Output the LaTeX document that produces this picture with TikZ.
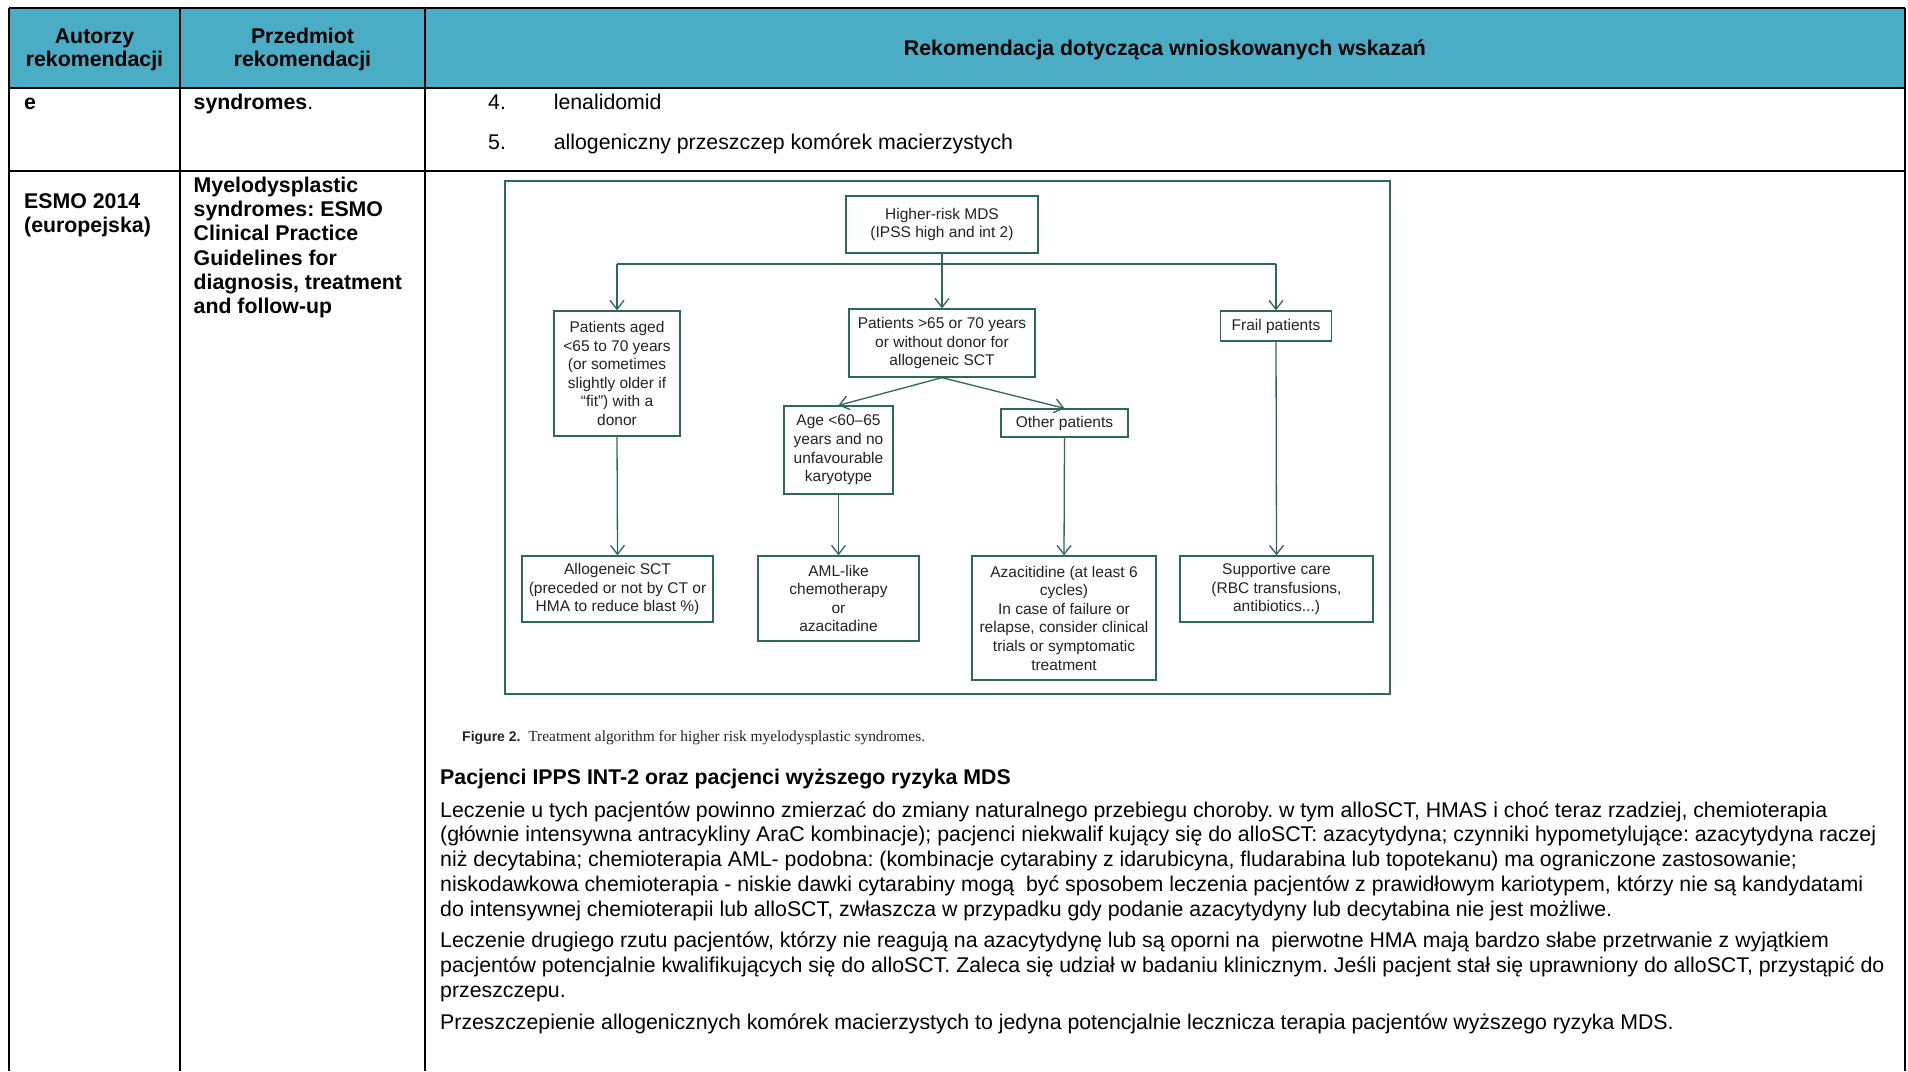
\documentclass[tikz,border=0pt]{standalone}
\usepackage{fontspec}
\setmainfont{Liberation Sans}
\newfontfamily\serifcap{Liberation Serif}
\usetikzlibrary{arrows.meta}
\definecolor{hdr}{HTML}{4BACC6}
\definecolor{fg}{RGB}{45,105,85}
\definecolor{ftext}{RGB}{35,35,35}
\newcommand\tabfont{\fontsize{21.3}{23}\selectfont}
\newcommand\figfont{\fontsize{15.5}{18.6}\selectfont}
\tikzset{
  tline/.style={line width=2pt, black},
  fbox/.style={draw=fg, line width=1.3pt, align=center, text=ftext, font=\figfont, inner sep=0pt},
  farr/.style={draw=fg, line width=1.3pt, -{Straight Barb[length=9pt,width=14pt,line width=1.3pt]}},
  fline/.style={draw=fg, line width=1.3pt},
  ttxt/.style={anchor=base west, inner sep=0pt, font=\tabfont},
  btxt/.style={anchor=base west, inner sep=0pt, font=\tabfont\bfseries},
  htxt/.style={align=center, inner sep=0pt, font=\tabfont\bfseries},
}
\begin{document}
\frenchspacing
\begin{tikzpicture}[x=1pt,y=-1pt]
\useasboundingbox (0,0) rectangle (1908,1071);
\fill[white] (0,0) rectangle (1908,1071);
% table
\fill[hdr] (9,8) rectangle (1905,88);
\draw[tline] (9,8) -- (1905,8);
\draw[tline] (9,88) -- (1905,88);
\draw[tline] (9,171) -- (1905,171);
\draw[tline] (9,8) -- (9,1071);
\draw[tline] (180,8) -- (180,1071);
\draw[tline] (425,8) -- (425,1071);
\draw[tline] (1905,8) -- (1905,1071);
% header
\node[htxt] (h1) at (94.5,49.5) {Autorzy\\rekomendacji};
\node[htxt] (h2) at (302.5,49.5) {Przedmiot\\rekomendacji};
\node[htxt] (h3) at (1165,49.5) {Rekomendacja dotycząca wnioskowanych wskazań};
% row 1
\node[btxt] (r1a) at (24,109) {e};
\node[ttxt] (r1b) at (193.5,109) {\textbf{syndromes}.};
\node[ttxt] (n4) at (488,109) {4.};
\node[ttxt] (t4) at (553.6,109) {lenalidomid};
\node[ttxt] (n5) at (488,149.5) {5.};
\node[ttxt] (t5) at (553.6,149.5) {allogeniczny przeszczep komórek macierzystych};
% row 2
\node[btxt] (e1) at (24,208) {ESMO 2014};
\node[btxt] (e2) at (24,232.5) {(europejska)};
\node[btxt] (m1) at (193.5,192) {Myelodysplastic};
\node[btxt] (m2) at (193.5,216.3) {syndromes: ESMO};
\node[btxt] (m3) at (193.5,240.6) {Clinical Practice};
\node[btxt] (m4) at (193.5,265) {Guidelines for};
\node[btxt] (m5) at (193.5,289.3) {diagnosis, treatment};
\node[btxt] (m6) at (193.5,313.6) {and follow-up};
% figure frame
\draw[fline] (505,181) rectangle (1390,694);
\node[fbox, minimum width=192pt, minimum height=57pt] (top) at (942,224.5) {Higher-risk MDS\\(IPSS high and int 2)};
\node[fbox, minimum width=126pt, minimum height=125pt] (aged) at (617,373.5) {Patients aged\\<65 to 70 years\\(or sometimes\\slightly older if\\“fit”) with a\\donor};
\node[fbox, minimum width=186pt, minimum height=68pt] (old) at (942,343) {Patients >65 or 70 years\\or without donor for\\allogeneic SCT};
\node[fbox, minimum width=111pt, minimum height=30pt] (frail) at (1276,326) {Frail patients};
\node[fbox, minimum width=109pt, minimum height=88pt] (age) at (838.5,450) {Age <60–65\\years and no\\unfavourable\\karyotype};
\node[fbox, minimum width=127pt, minimum height=28pt] (other) at (1064.5,423) {Other patients};
\node[fbox, minimum width=191pt, minimum height=66pt] (allo) at (617.5,589) {Allogeneic SCT\\(preceded or not by CT or\\HMA to reduce blast \%)};
\node[fbox, minimum width=161pt, minimum height=85pt] (aml) at (838.5,598.5) {AML-like\\chemotherapy\\or\\azacitadine};
\node[fbox, minimum width=184pt, minimum height=124pt] (aza) at (1064,618) {Azacitidine (at least 6\\cycles)\\In case of failure or\\relapse, consider clinical\\trials or symptomatic\\treatment};
\node[fbox, minimum width=193pt, minimum height=66pt] (supp) at (1276.5,589) {Supportive care\\(RBC transfusions,\\antibiotics...)};
\coordinate (bl) at (617,264);
\coordinate (br) at (1276,264);
\draw[farr] (top.south) -- (old.north);
\draw[fline] (bl) -- (br);
\draw[farr] (bl) -- (aged.north);
\draw[farr] (br) -- (frail.north);
\draw[farr] (old.south) -- (age.north);
\draw[farr] (old.south) -- (other.north);
\draw[farr] (aged.south) -- (allo.north);
\draw[farr] (age.south) -- (aml.north);
\draw[farr] (other.south) -- (aza.north);
\draw[farr] (frail.south) -- (supp.north);
% caption
\node[anchor=base west, inner sep=0pt, text=ftext] (cap) at (462,741) {\fontsize{14}{16}\selectfont\textbf{Figure 2.}\ \ {\serifcap\fontsize{15.4}{17}\selectfont Treatment algorithm for higher risk myelodysplastic syndromes.}};
% text
\node[btxt] (hd) at (440,784.5) {Pacjenci IPPS INT-2 oraz pacjenci wyższego ryzyka MDS};
\node[ttxt] (p1) at (440,817.4) {Leczenie u tych pacjentów powinno zmierzać do zmiany naturalnego przebiegu choroby. w tym alloSCT, HMAS i choć teraz rzadziej, chemioterapia};
\node[ttxt] (p2) at (440,841.7) {(głównie intensywna antracykliny AraC kombinacje); pacjenci niekwalif kujący się do alloSCT: azacytydyna; czynniki hypometylujące: azacytydyna raczej};
\node[ttxt] (p3) at (440,866) {niż decytabina; chemioterapia AML- podobna: (kombinacje cytarabiny z idarubicyna, fludarabina lub topotekanu) ma ograniczone zastosowanie;};
\node[ttxt] (p4) at (440,891.6) {niskodawkowa chemioterapia - niskie dawki cytarabiny mogą\ \ być sposobem leczenia pacjentów z prawidłowym kariotypem, którzy nie są kandydatami};
\node[ttxt] (p5) at (440,916) {do intensywnej chemioterapii lub alloSCT, zwłaszcza w przypadku gdy podanie azacytydyny lub decytabina nie jest możliwe.};
\node[ttxt] (q1) at (440,947.6) {Leczenie drugiego rzutu pacjentów, którzy nie reagują na azacytydynę lub są oporni na\ \ pierwotne HMA mają bardzo słabe przetrwanie z wyjątkiem};
\node[ttxt] (q2) at (440,972) {pacjentów potencjalnie kwalifikujących się do alloSCT. Zaleca się udział w badaniu klinicznym. Jeśli pacjent stał się uprawniony do alloSCT, przystąpić do};
\node[ttxt] (q3) at (440,997.5) {przeszczepu.};
\node[ttxt] (s1) at (440,1029) {Przeszczepienie allogenicznych komórek macierzystych to jedyna potencjalnie lecznicza terapia pacjentów wyższego ryzyka MDS.};
\end{tikzpicture}
\end{document}
